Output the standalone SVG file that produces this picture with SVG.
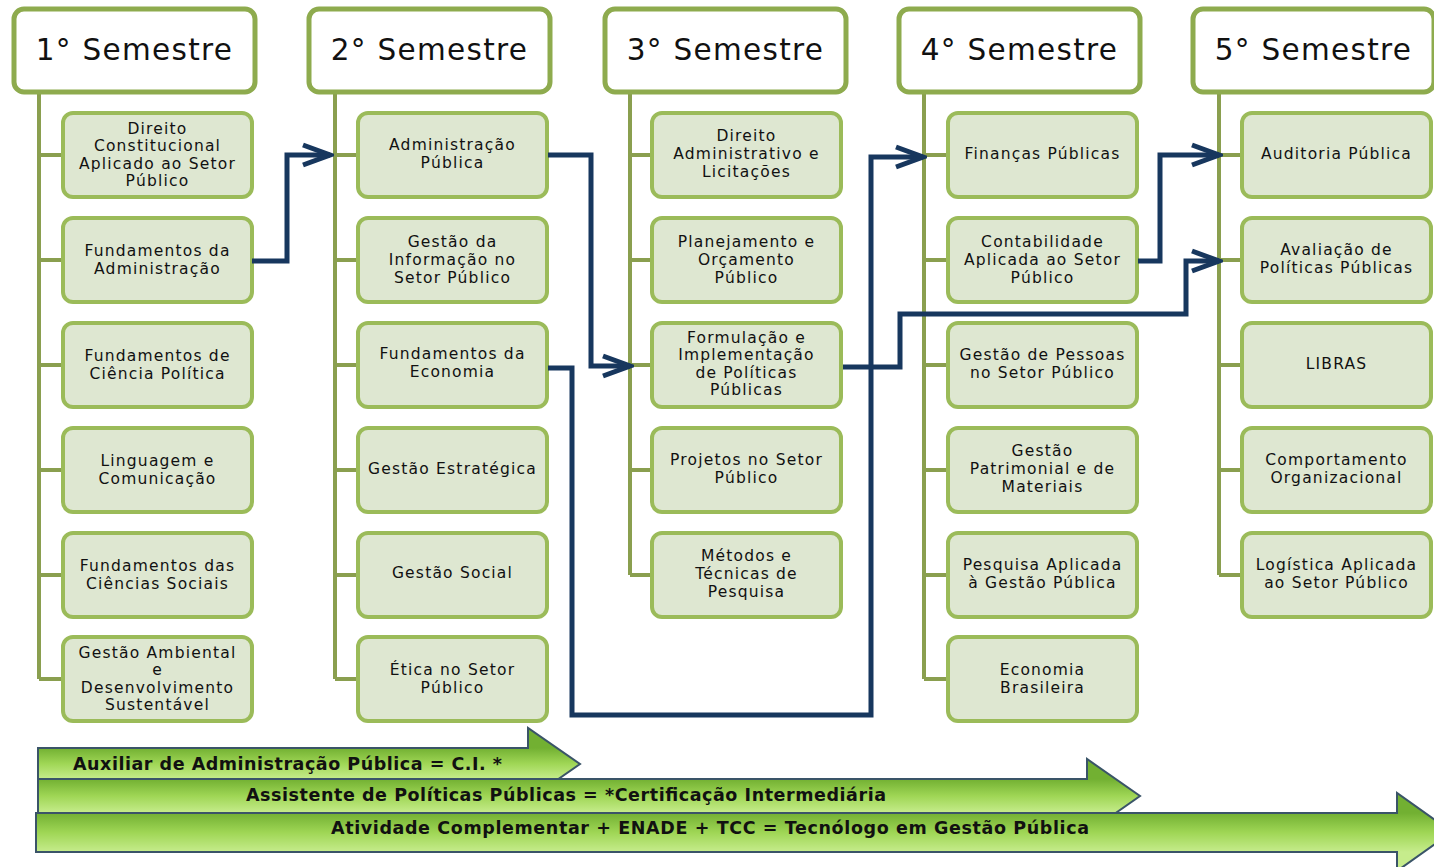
<svg xmlns="http://www.w3.org/2000/svg" width="1434" height="867" viewBox="0 0 1434 867">
<style>
.hdr rect{fill:#fff;stroke:#8EAB4E;stroke-width:5}
.hdr text{font-family:"DejaVu Sans",Verdana,sans-serif;font-size:29.5px;letter-spacing:1.3px;fill:#111;text-anchor:middle}
.box rect{fill:#DEE7D1;stroke:#9BBB59;stroke-width:4}
.box text{font-family:"DejaVu Sans",Verdana,sans-serif;font-size:15.5px;letter-spacing:1.2px;fill:#111;text-anchor:middle}
.tree{stroke:#8A9F4F;stroke-width:4;fill:none}
.conn path{stroke:#17375E;stroke-width:5;fill:none;stroke-linejoin:miter}
.band path{stroke:#3A5468;stroke-width:2}
.band text{font-family:"DejaVu Sans",Verdana,sans-serif;font-size:17.5px;font-weight:bold;fill:#111}
</style>
<defs>
<marker id="ah" markerUnits="userSpaceOnUse" viewBox="-32 -14 36 28" refX="0" refY="0" markerWidth="36" markerHeight="28" orient="auto">
<path d="M-27,-10 L0,0 L-27,10" fill="none" stroke="#17375E" stroke-width="5"/>
</marker>
<linearGradient id="g1" gradientUnits="userSpaceOnUse" x1="0" y1="748" x2="0" y2="779"><stop offset="0" stop-color="#72B032"/><stop offset="0.5" stop-color="#9FD655"/><stop offset="1" stop-color="#C6EC8C"/></linearGradient>
<linearGradient id="g2" gradientUnits="userSpaceOnUse" x1="0" y1="779" x2="0" y2="813"><stop offset="0" stop-color="#72B032"/><stop offset="0.5" stop-color="#9FD655"/><stop offset="1" stop-color="#C6EC8C"/></linearGradient>
<linearGradient id="g3" gradientUnits="userSpaceOnUse" x1="0" y1="813" x2="0" y2="852"><stop offset="0" stop-color="#72B032"/><stop offset="0.5" stop-color="#9FD655"/><stop offset="1" stop-color="#C6EC8C"/></linearGradient>
</defs>
<rect width="1434" height="867" fill="#fff"/>

<g id="trees" class="tree">
<path d="M39,92 V679 M39,155 H63 M39,260 H63 M39,365 H63 M39,470 H63 M39,575 H63 M39,679 H63"/>
<path d="M335,92 V679 M335,155 H358 M335,260 H358 M335,365 H358 M335,470 H358 M335,575 H358 M335,679 H358"/>
<path d="M630,92 V575 M630,155 H652 M630,260 H652 M630,365 H652 M630,470 H652 M630,575 H652"/>
<path d="M924,92 V679 M924,155 H948 M924,260 H948 M924,365 H948 M924,470 H948 M924,575 H948 M924,679 H948"/>
<path d="M1219,92 V575 M1219,155 H1242 M1219,260 H1242 M1219,365 H1242 M1219,470 H1242 M1219,575 H1242"/>
</g>

<g id="h1" class="hdr"><rect x="14" y="9" width="241" height="83" rx="10"/><text x="134.5" y="60">1° Semestre</text></g>
<g id="h2" class="hdr"><rect x="309" y="9" width="241" height="83" rx="10"/><text x="429.5" y="60">2° Semestre</text></g>
<g id="h3" class="hdr"><rect x="605" y="9" width="241" height="83" rx="10"/><text x="725.5" y="60">3° Semestre</text></g>
<g id="h4" class="hdr"><rect x="899" y="9" width="241" height="83" rx="10"/><text x="1019.5" y="60">4° Semestre</text></g>
<g id="h5" class="hdr"><rect x="1193" y="9" width="241" height="83" rx="10"/><text x="1313.5" y="60">5° Semestre</text></g>

<g id="c1r1" class="box"><rect x="63" y="113" width="189" height="84" rx="10"/><text><tspan x="157.5" y="133.6">Direito</tspan><tspan x="157.5" y="151.2">Constitucional</tspan><tspan x="157.5" y="168.8">Aplicado ao Setor</tspan><tspan x="157.5" y="186.4">Público</tspan></text></g>
<g id="c1r2" class="box"><rect x="63" y="218" width="189" height="84" rx="10"/><text><tspan x="157.5" y="256.2">Fundamentos da</tspan><tspan x="157.5" y="273.8">Administração</tspan></text></g>
<g id="c1r3" class="box"><rect x="63" y="323" width="189" height="84" rx="10"/><text><tspan x="157.5" y="361.2">Fundamentos de</tspan><tspan x="157.5" y="378.8">Ciência Política</tspan></text></g>
<g id="c1r4" class="box"><rect x="63" y="428" width="189" height="84" rx="10"/><text><tspan x="157.5" y="466.2">Linguagem e</tspan><tspan x="157.5" y="483.8">Comunicação</tspan></text></g>
<g id="c1r5" class="box"><rect x="63" y="533" width="189" height="84" rx="10"/><text><tspan x="157.5" y="571.2">Fundamentos das</tspan><tspan x="157.5" y="588.8">Ciências Sociais</tspan></text></g>
<g id="c1r6" class="box"><rect x="63" y="637" width="189" height="84" rx="10"/><text><tspan x="157.5" y="657.6">Gestão Ambiental</tspan><tspan x="157.5" y="675.2">e</tspan><tspan x="157.5" y="692.8">Desenvolvimento</tspan><tspan x="157.5" y="710.4">Sustentável</tspan></text></g>

<g id="c2r1" class="box"><rect x="358" y="113" width="189" height="84" rx="10"/><text><tspan x="452.5" y="150.2">Administração</tspan><tspan x="452.5" y="167.8">Pública</tspan></text></g>
<g id="c2r2" class="box"><rect x="358" y="218" width="189" height="84" rx="10"/><text><tspan x="452.5" y="247.4">Gestão da</tspan><tspan x="452.5" y="265">Informação no</tspan><tspan x="452.5" y="282.6">Setor Público</tspan></text></g>
<g id="c2r3" class="box"><rect x="358" y="323" width="189" height="84" rx="10"/><text><tspan x="452.5" y="359.2">Fundamentos da</tspan><tspan x="452.5" y="376.8">Economia</tspan></text></g>
<g id="c2r4" class="box"><rect x="358" y="428" width="189" height="84" rx="10"/><text><tspan x="452.5" y="474">Gestão Estratégica</tspan></text></g>
<g id="c2r5" class="box"><rect x="358" y="533" width="189" height="84" rx="10"/><text><tspan x="452.5" y="578">Gestão Social</tspan></text></g>
<g id="c2r6" class="box"><rect x="358" y="637" width="189" height="84" rx="10"/><text><tspan x="452.5" y="675.2">Ética no Setor</tspan><tspan x="452.5" y="692.8">Público</tspan></text></g>

<g id="c3r1" class="box"><rect x="652" y="113" width="189" height="84" rx="10"/><text><tspan x="746.5" y="141.4">Direito</tspan><tspan x="746.5" y="159">Administrativo e</tspan><tspan x="746.5" y="176.6">Licitações</tspan></text></g>
<g id="c3r2" class="box"><rect x="652" y="218" width="189" height="84" rx="10"/><text><tspan x="746.5" y="247.4">Planejamento e</tspan><tspan x="746.5" y="265">Orçamento</tspan><tspan x="746.5" y="282.6">Público</tspan></text></g>
<g id="c3r3" class="box"><rect x="652" y="323" width="189" height="84" rx="10"/><text><tspan x="746.5" y="342.6">Formulação e</tspan><tspan x="746.5" y="360.2">Implementação</tspan><tspan x="746.5" y="377.8">de Políticas</tspan><tspan x="746.5" y="395.4">Públicas</tspan></text></g>
<g id="c3r4" class="box"><rect x="652" y="428" width="189" height="84" rx="10"/><text><tspan x="746.5" y="465.2">Projetos no Setor</tspan><tspan x="746.5" y="482.8">Público</tspan></text></g>
<g id="c3r5" class="box"><rect x="652" y="533" width="189" height="84" rx="10"/><text><tspan x="746.5" y="561.4">Métodos e</tspan><tspan x="746.5" y="579">Técnicas de</tspan><tspan x="746.5" y="596.6">Pesquisa</tspan></text></g>

<g id="c4r1" class="box"><rect x="948" y="113" width="189" height="84" rx="10"/><text><tspan x="1042.5" y="159">Finanças Públicas</tspan></text></g>
<g id="c4r2" class="box"><rect x="948" y="218" width="189" height="84" rx="10"/><text><tspan x="1042.5" y="247.4">Contabilidade</tspan><tspan x="1042.5" y="265">Aplicada ao Setor</tspan><tspan x="1042.5" y="282.6">Público</tspan></text></g>
<g id="c4r3" class="box"><rect x="948" y="323" width="189" height="84" rx="10"/><text><tspan x="1042.5" y="360.2">Gestão de Pessoas</tspan><tspan x="1042.5" y="377.8">no Setor Público</tspan></text></g>
<g id="c4r4" class="box"><rect x="948" y="428" width="189" height="84" rx="10"/><text><tspan x="1042.5" y="456.4">Gestão</tspan><tspan x="1042.5" y="474">Patrimonial e de</tspan><tspan x="1042.5" y="491.6">Materiais</tspan></text></g>
<g id="c4r5" class="box"><rect x="948" y="533" width="189" height="84" rx="10"/><text><tspan x="1042.5" y="570.2">Pesquisa Aplicada</tspan><tspan x="1042.5" y="587.8">à Gestão Pública</tspan></text></g>
<g id="c4r6" class="box"><rect x="948" y="637" width="189" height="84" rx="10"/><text><tspan x="1042.5" y="675.2">Economia</tspan><tspan x="1042.5" y="692.8">Brasileira</tspan></text></g>

<g id="c5r1" class="box"><rect x="1242" y="113" width="189" height="84" rx="10"/><text><tspan x="1336.5" y="159">Auditoria Pública</tspan></text></g>
<g id="c5r2" class="box"><rect x="1242" y="218" width="189" height="84" rx="10"/><text><tspan x="1336.5" y="255.2">Avaliação de</tspan><tspan x="1336.5" y="272.8">Políticas Públicas</tspan></text></g>
<g id="c5r3" class="box"><rect x="1242" y="323" width="189" height="84" rx="10"/><text><tspan x="1336.5" y="369">LIBRAS</tspan></text></g>
<g id="c5r4" class="box"><rect x="1242" y="428" width="189" height="84" rx="10"/><text><tspan x="1336.5" y="465.2">Comportamento</tspan><tspan x="1336.5" y="482.8">Organizacional</tspan></text></g>
<g id="c5r5" class="box"><rect x="1242" y="533" width="189" height="84" rx="10"/><text><tspan x="1336.5" y="570.2">Logística Aplicada</tspan><tspan x="1336.5" y="587.8">ao Setor Público</tspan></text></g>

<g id="connectors" class="conn">
<path d="M252,261 H287 V155 H330" marker-end="url(#ah)"/>
<path d="M548,155 H591 V366 H630" marker-end="url(#ah)"/>
<path d="M548,368 H572 V715 H871 V157 H923" marker-end="url(#ah)"/>
<path d="M843,367 H900 V314 H1186 V261 H1219" marker-end="url(#ah)"/>
<path d="M1138,261 H1160 V155 H1219" marker-end="url(#ah)"/>
</g>

<g id="bands" class="band">
<g id="band1"><path d="M38,748 H528 V728 L580,764 L528,800 V779 H38 Z" fill="url(#g1)"/><text x="73" y="770" textLength="429" lengthAdjust="spacing">Auxiliar de Administração Pública = C.I. *</text></g>
<g id="band2"><path d="M38,779 H1087 V759 L1140,796 L1087,833 V813 H38 Z" fill="url(#g2)"/><text x="246" y="801" textLength="640" lengthAdjust="spacing">Assistente de Políticas Públicas = *Certificação Intermediária</text></g>
<g id="band3"><path d="M36,813 H1397 V793 L1452,832 L1397,871 V852 H36 Z" fill="url(#g3)"/><text x="331" y="834" textLength="758" lengthAdjust="spacing">Atividade Complementar + ENADE + TCC = Tecnólogo em Gestão Pública</text></g>
</g>
</svg>
